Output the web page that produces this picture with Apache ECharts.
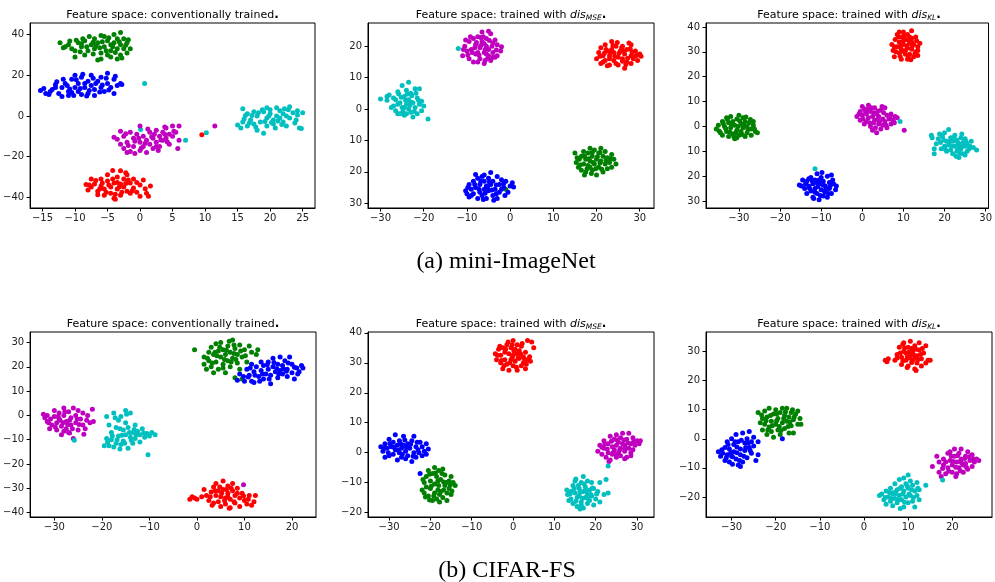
<!DOCTYPE html>
<html>
<head>
<meta charset="utf-8">
<script src="https://cdn.jsdelivr.net/npm/echarts@6/dist/echarts.min.js"></script>
<style>
  html, body { margin: 0; padding: 0; background: #fff; }
  #chart { width: 995px; height: 582px; }
</style>
</head>
<body>
<div id="chart"></div>
<script>
// t-SNE feature space plots, 2 datasets x 3 training setups

// ---- tick values ----
const p1XTicks = [-15, -10, -5, 0, 5, 10, 15, 20, 25];
const p1YTicks = [-40, -20, 0, 20, 40];
const p2XTicks = [-30, -20, -10, 0, 10, 20, 30];
const p2YTicks = [-30, -20, -10, 0, 10, 20];
const p3XTicks = [-30, -20, -10, 0, 10, 20, 30];
const p3YTicks = [-30, -20, -10, 0, 10, 20, 30, 40];
const p4XTicks = [-30, -20, -10, 0, 10, 20];
const p4YTicks = [-40, -30, -20, -10, 0, 10, 20, 30];
const p5XTicks = [-30, -20, -10, 0, 10, 20, 30];
const p5YTicks = [-20, -10, 0, 10, 20, 30, 40];
const p6XTicks = [-30, -20, -10, 0, 10, 20];
const p6YTicks = [-20, -10, 0, 10, 20, 30];

// ---- (a) mini-ImageNet, conventionally trained ----
const p1Green = [[-12.3,36],[-11,35],[-10.5,33],[-10,29],[-9.5,36],[-9,34],[-8.5,37],[-8,32],[-8.5,30],[-7.5,35],[-7,38],[-7,33],[-6.5,36],[-6,31],[-6,28],[-5.5,39],[-5.5,34],[-5,37],[-5,30],[-4.5,35],[-4.5,32],[-4,40],[-4,36],[-3.5,38],[-3.5,33],[-3,41],[-3,35],[-3,30],[-2.5,38],[-2.5,33],[-2,36],[-2,31],[-3.5,28],[-6.5,27.5],[-9,35.5],[-10,32],[-7.8,39],[-5.8,36.5],[-4.2,34],[-2.8,28.5],[-1.8,37.5],[-11.5,34],[-8.2,34],[-6.2,33.5],[-4.8,38.5],[-3.2,36.5],[-7.2,30.5],[-9.8,37.2],
  [-11.8,33.5],[-10.8,36.8],[-9.2,31.5],[-8.8,38],[-7.2,36.2],[-6.8,34.5],[-5.2,32],[-4.5,29],[-3.8,31.2],[-2.2,34.8],[-1.5,33],[-6,39.5]];
const p1Blue = [[-15.3,12.5],[-14.5,11],[-14,10.5],[-13.5,13],[-13,15.5],[-12.5,11],[-12,14],[-12,9.5],[-11.5,16],[-11,12],[-11,10],[-10.5,18],[-10,14],[-10,20],[-9.5,12],[-9.5,16],[-9,10.5],[-9,19],[-8.5,14],[-8,17],[-8,11],[-7.5,15],[-7.5,20],[-7,13],[-7,10],[-6.5,17],[-6,14],[-6,19],[-5.5,12],[-5,16],[-5,21],[-4.5,14],[-4,18],[-4,11],[-3.5,15],[-3,16],[-2.8,15.5],[-8.8,20.5],[-11.8,18],[-6.8,16],[-10.2,10],[-13,14],[-9.2,13.5],[-7.8,12.5],[-5.2,18.5],[-11.2,15],[-8.5,16],
  [-14.8,13.5],[-13.8,12],[-12.8,16.8],[-10.8,13.2],[-9.8,17.8],[-8.2,9.8],[-7.2,18.5],[-6.2,11.8],[-5.8,15.2],[-4.8,12.8],[-3.8,19.5],[-10.5,11.5]];
const p1Red = [[-8.3,-33.8],[-8,-36.5],[-7.5,-35],[-7.5,-31],[-7,-33.5],[-6.5,-37],[-6,-34.5],[-6,-31],[-5.5,-36],[-5.5,-39],[-5,-32],[-5,-29],[-4.5,-35],[-4.5,-38],[-4,-33],[-4,-40.5],[-3.5,-30],[-3.5,-36],[-3,-27],[-3,-33.5],[-3,-39],[-2.5,-31],[-2.5,-35],[-2,-29],[-2,-37],[-1.5,-33],[-1.5,-38],[-1,-31],[-1,-35.5],[-0.5,-37.5],[0,-34],[0,-39.5],[0.5,-31.5],[1,-38],[1.6,-34.5],[1.3,-39.5],[-4.2,-26.8],[-2.2,-28],[-6.8,-31.8],[-3.8,-41],[-3.2,-35],[-4.8,-34],[-2.8,-37.5],[-1.8,-31.5],[9.5,-9.3],
  [-7.8,-34],[-6.2,-36],[-5.8,-33],[-5.2,-37.5],[-4.2,-31],[-3.8,-38.5],[-2.2,-33.2],[-1.2,-36.8],[-0.5,-32.8],[0.8,-35.8],[-6.5,-38.8],[-3.5,-32.8]];
const p1Cyan = [[15,-4.5],[15.5,-6],[15.8,3.5],[16,-1.5],[16.5,1],[16.5,-5],[17,-2],[17.5,2],[17.5,-4],[18,-7],[18,0],[18.5,-3],[19,2],[19,-8.5],[19.5,-1],[19.5,-5],[20,1],[20,3],[20.5,-2],[20.5,-4],[21,0],[21,4],[21.5,-1],[21.5,2.5],[22,-3],[22,1],[22.5,-5],[23,4.5],[23,-1],[23.5,1.5],[24,-2],[24.5,-6],[25,1.5],[24.8,-6.2],[24.2,0.5],[18.8,3],[16.8,-3.5],[20.8,-6],[22.8,3],[17.2,0.2],[19.8,0],[21.2,-2.5],[0.7,16],[0.1,-6.7],[7,-12],[10.2,-8.3],
  [15.8,-3],[16.2,0.2],[17.8,-5.5],[18.2,1.5],[19.2,-2.8],[20.2,-3.2],[21.8,-4.2],[22.2,3.5],[23.8,-3.5],[24.2,2.5],[22.5,0],[19.5,4]];
const p1Magenta = [[-4,-10.5],[-3,-7.5],[-2.5,-10],[-2,-13],[-2.5,-16],[-2,-18],[-1.5,-8],[-1,-11],[-1,-15],[-0.5,-9],[0,-13],[0,-17],[0,-5],[0.5,-10],[0.5,-15],[1,-12],[1,-18],[1.5,-8],[1.5,-14],[2,-11],[2,-16],[2.5,-7],[2.5,-13],[3,-10],[3,-15],[3.5,-8],[3.5,-12],[4,-6],[4,-11],[4.5,-9],[4.5,-14],[5,-5],[5,-10],[5.5,-8],[6,-5],[6,-12],[5.8,-16],[-3,-14],[-1.5,-17.5],[2.8,-17],[1.2,-6.5],[3.8,-5.5],[-0.8,-12.5],[0.8,-13.5],[2.2,-9],[11.5,-5],
  [-3.5,-11.5],[-2.2,-8.8],[-1.8,-14.5],[-0.2,-11],[0.2,-15.8],[1.8,-10.2],[2.5,-15],[3.2,-11.8],[4.2,-12.8],[5.2,-7.5],[3.8,-9],[-0.8,-18.5]];

// ---- (a) mini-ImageNet, trained with dis_MSE ----
const p2Magenta = [[-11,17],[-10.5,20],[-10,18.5],[-9.5,21.5],[-9.5,16],[-9,19],[-8.5,22.5],[-8.5,15],[-8,17.5],[-8,20.5],[-7.5,23],[-7.5,18],[-7,19.5],[-7,16],[-6.5,21.5],[-6.5,24.5],[-6,18],[-6,14.5],[-5.5,20],[-5.5,22.5],[-5,17],[-5,19],[-4.5,24],[-4.5,15.5],[-4,21],[-4,18],[-3.5,16.5],[-3.5,22],[-3,20.5],[-2.2,18.5],[-2,19.8],[-3,17],[-5.2,16.2],[-7.8,21.2],[-8.8,18],[-6.2,23],[-10.3,22],[-5,24.8],[-6.8,20.2],[-5.8,19],[-4.2,20],[-7.2,17.2],
  [-10.8,19],[-9.8,17.2],[-9.2,23],[-8.2,19.5],[-7.5,15],[-6.8,22.8],[-6,20.8],[-5.5,17.5],[-4.8,21.8],[-4,16.5],[-3.2,18.8],[-5.8,15.5]];
const p2Red = [[20,16],[20.5,18],[21,14.5],[21,19.5],[21.5,17],[22,20.5],[22,15.5],[22.5,18.5],[23,14],[23,17],[23.5,21.5],[23.5,19],[24,15.5],[24,18],[24.5,20],[25,16.5],[25,14],[25.5,18.5],[26,16],[26,20],[26.5,13],[26.5,17.5],[27,15],[27,19],[27.5,21],[28,17],[28,14.5],[28.5,16],[29,18.5],[29.5,15.5],[30,17.5],[30.3,16.8],[22.5,13.8],[24.8,21.2],[27.8,19.2],[26.8,14.2],[21.8,17.8],[29,17],[25.8,19.5],[23.2,18],[24.2,16.8],[28.2,18.2],
  [20.8,16.8],[21.5,15],[22.2,19],[23,16],[23.8,20.2],[24.5,14.5],[25.2,17.8],[26.2,18.5],[27.2,16.2],[28,20.5],[29.5,17.2],[26,15.2]];
const p2Cyan = [[-30,3.2],[-28.5,4],[-28,4.5],[-27,1],[-26.5,3],[-26.5,-0.5],[-26,5.5],[-25.5,2],[-25.5,-1.5],[-25,7.5],[-25,0.5],[-24.5,4],[-24.5,-2],[-24,1.5],[-24,6],[-23.5,8.5],[-23.5,0],[-23.5,3],[-23,5],[-23,-1],[-22.5,2],[-22.5,-2.5],[-22,6.5],[-22,0.5],[-21.5,3.5],[-21.5,-1.5],[-21,1.5],[-20.5,2.5],[-20,1],[-19,-3.2],[-21,6.5],[-26,1.5],[-24.8,-0.8],[-22.8,4.2],[-27.5,0.5],[-20.5,-0.5],[-24.2,2.8],[-23.2,1.2],[-12,19.3],
  [-28.5,2.8],[-27,3.5],[-26,-1.5],[-25.2,3.8],[-24.5,0.5],[-23.8,4.8],[-23,2.2],[-22.2,-0.8],[-21.8,5],[-21.2,2.8],[-24,-1.5],[-25.8,4.8]];
const p2Green = [[15,-14],[15.3,-17],[15.8,-18.5],[16,-16],[16.5,-19.5],[16.5,-15],[17,-17.5],[17,-13.5],[17.5,-20],[17.5,-16],[18,-14],[18,-18],[18.5,-12.5],[18.5,-16.5],[19,-19.5],[19,-15],[19.5,-13],[19.5,-17.5],[20,-21],[20,-16],[20.5,-14],[20.5,-18.5],[21,-12.5],[21,-16.5],[21.5,-20],[21.5,-15],[22,-17.5],[22,-13.5],[22.5,-19],[22.5,-15.5],[23,-17],[23.5,-14.5],[23.5,-18.5],[24,-16],[24.5,-17.5],[17.2,-21],[18.8,-20.5],[20.8,-13.8],[19.2,-17],[20.2,-15.2],[-1,-25.5],
  [15.5,-15.5],[16.2,-17.8],[17.2,-15],[17.8,-19],[18.2,-15.8],[19,-13.8],[19.8,-19],[20.8,-17.2],[21.2,-19.2],[22.2,-16.2],[23.2,-15.8],[18.5,-18.5]];
const p2Blue = [[-10.3,-26],[-10,-27],[-9.5,-24],[-9.5,-28],[-9,-25.5],[-8.5,-23],[-8.5,-27],[-8,-25],[-7.5,-22],[-7.5,-28.5],[-7,-24],[-7,-26.5],[-6.5,-21.5],[-6.5,-27.5],[-6,-23],[-6,-25.5],[-5.5,-24.5],[-5.5,-28.5],[-5,-22],[-5,-26],[-4.5,-20.2],[-4.5,-24],[-4,-27.5],[-4,-23],[-3.5,-25.5],[-3,-21.5],[-3,-28.5],[-2.5,-24],[-2.5,-26.5],[-2,-22.5],[-1.5,-25],[-1,-23],[-0.5,-26.5],[0,-24.5],[0.5,-23.5],[0.8,-24.8],[-8,-20.8],[-6.2,-28.8],[-3.8,-29],[-1.2,-27.5],[-5.2,-24.8],[-3.2,-24.2],
  [-9.8,-25],[-9,-27.5],[-8.2,-24],[-7.2,-25.5],[-6.8,-23],[-5.8,-26.8],[-4.8,-23.2],[-4.2,-25.8],[-3.2,-27],[-2,-25.5],[-1.5,-23.8],[-6,-21]];

// ---- (a) mini-ImageNet, trained with dis_KL ----
const p3Red = [[7.2,33],[7.5,30.5],[7.8,28],[8,35],[8.5,32],[8.5,37],[9,29.5],[9,34],[9.5,27],[9.5,31],[9.5,36],[10,33],[10,38],[10.5,29],[10.5,35],[11,27],[11,31.5],[11,37],[11.5,33.5],[11.5,29],[12,35.5],[12,38.5],[12,31],[12.5,28],[12.5,33],[13,30],[13,36],[13.5,28.5],[13.5,32],[14,33.5],[8.2,30],[10.2,36.5],[11.8,26.8],[9.8,30.2],[13.2,34.5],[10.8,32.5],[11.2,34.8],[9.2,32.2],
  [7.8,32],[8.8,36],[9.2,28.2],[10,34.5],[10.5,30.5],[11.5,36],[11.2,28],[12.2,32.5],[12.8,29.2],[13.5,30.5],[9,38],[12,34]];
const p3Green = [[-35.5,-1],[-35,0.5],[-34.5,-2.5],[-34,2],[-34,-3.5],[-33.5,0],[-33,3.5],[-33,-2],[-32.5,1.5],[-32.5,-4],[-32,-0.5],[-32,4],[-31.5,2],[-31.5,-3],[-31,0.5],[-31,-5],[-30.5,3],[-30.5,-1.5],[-30,4.5],[-30,-3.5],[-29.5,1],[-29.5,-2],[-29,3.5],[-29,-0.5],[-28.5,2],[-28.5,-4],[-28,0],[-28,-2.5],[-27.5,1.5],[-27,-1],[-27,-3.5],[-26.5,0.5],[-26,-2],[-25.5,-2.5],[-26.5,2],[-28.3,3.8],[-33.8,1.2],[-31.2,-4.2],[-30.2,0],[-32.2,-2.2],
  [-34.8,-1.8],[-33.2,-0.8],[-32.8,2.8],[-31.8,0.8],[-30.8,-2.5],[-29.8,2.2],[-29.2,-3.2],[-28.8,0.8],[-27.8,-1.2],[-27.2,2.8],[-26.2,-1],[-30.5,-4.5]];
const p3Magenta = [[-1.3,4],[-0.5,6],[-0.5,2.5],[0,8],[0,4.5],[0.5,1],[0.5,7],[1,5],[1,2],[1.5,8.5],[1.5,3.5],[2,6],[2,0],[2.5,4],[2.5,-1.5],[3,7.5],[3,2.5],[3.5,5],[3.5,-2.5],[4,1],[4,4],[4.5,6.5],[4.5,-1],[5,3],[5,0.5],[5.5,7.5],[5.5,2],[6,4.5],[6,-0.5],[6.5,3],[7,5],[7,1],[7.5,2.5],[8,4],[8.5,3.5],[10.2,-1.5],[3.2,-0.5],[1.2,6.8],[4.8,8],[2.8,5.5],[3.8,3],
  [-0.8,5],[0.2,3],[0.8,5.8],[1.8,1.5],[2.2,7.5],[2.8,1.5],[3.8,6.2],[4.2,2],[5.2,5.5],[5.8,0.5],[6.8,3.8],[7.8,1.5]];
const p3Cyan = [[16.8,-3.5],[17,-4.5],[17.5,-11],[17.5,-9],[18.5,-5],[19,-6.5],[19.5,-4],[20,-8],[20,-2.5],[20.5,-6],[20.5,-10],[21,-1.2],[21,-7.5],[21.5,-4.5],[21.5,-9.5],[22,-6],[22,-11],[22.5,-3.5],[22.5,-8],[23,-5.5],[23,-10],[23.5,-7],[23.5,-12.5],[24,-4.5],[24,-9],[24.5,-6.5],[24.5,-11],[25,-8],[25,-5],[25.5,-10],[25.5,-7],[26,-9],[26.5,-6],[27,-8.5],[27.8,-9.5],[19.2,-9],[22.8,-12],[18,-7],[24.2,-3],[23.2,-8.5],[9.2,2],[-11.5,-17],
  [18.8,-3],[19.8,-5.5],[20.2,-9.2],[21.2,-6.2],[21.8,-8],[22.2,-4.8],[23.2,-6.5],[23.8,-10.8],[24.2,-7.8],[25.2,-6],[26.2,-8],[25,-11.5]];
const p3Blue = [[-15.3,-23.5],[-14.5,-21.5],[-14,-25],[-13.5,-22],[-13.5,-27],[-13,-24],[-12.5,-20.5],[-12.5,-26],[-12,-23],[-12,-28.5],[-11.5,-21.5],[-11.5,-25],[-11,-19],[-11,-27],[-10.5,-23],[-10.5,-29.5],[-10,-20.5],[-10,-25.5],[-9.5,-22],[-9.5,-28],[-9,-24],[-9,-26.5],[-8.5,-20],[-8.5,-28.5],[-8,-22.5],[-8,-25],[-7.5,-27],[-7.5,-19.5],[-7,-23],[-6.5,-25.5],[-6.3,-24],[-11.8,-29],[-9.8,-18.5],[-13,-21],[-10.8,-24.2],[-11.2,-22.5],[-9.2,-26],
  [-14.8,-24],[-13.8,-23],[-12.8,-25],[-12.2,-21.8],[-11.5,-26.5],[-10.5,-21.5],[-10.2,-27.8],[-9.5,-23.5],[-8.8,-25.2],[-8.2,-27],[-7.2,-21.5],[-7.8,-24]];

// ---- (b) CIFAR-FS, conventionally trained ----
const p4Green = [[-0.5,27],[1.5,21],[1.5,24],[2,19],[2.5,26],[2.5,22.5],[3,28],[3,20],[3.5,25],[3.5,17.5],[4,29.5],[4,22],[4.5,26.5],[4.5,19],[5,24],[5,30],[5.5,21],[5.5,27],[6,17.5],[6,25],[6.5,22.5],[6.5,28.5],[7,20],[7,26],[7.5,31],[7.5,23.5],[8,15.5],[8,27.5],[8.5,21.5],[8.5,25],[9,29],[9,19],[9.5,24],[9.5,15],[10,27],[10.5,22],[11,28.5],[12.5,25],[12.8,27],[3.8,26],[6.8,30.5],[5.8,23],[7.8,25.5],
  [2.2,23.5],[3.2,21.5],[4.2,24.5],[4.8,28],[5.5,19.5],[6.2,26.8],[7.2,22],[7.8,29],[8.2,23],[9.2,26.5],[10.2,24.5],[11.5,26]];
const p4Blue = [[8.5,14.5],[9,17],[10,14],[10.5,19],[11,16.5],[11.5,21],[11.5,14],[12,18],[12,13.5],[12.5,20],[13,16],[13.5,22],[13.5,18.5],[14,15],[14,20.5],[14.5,17],[15,22],[15,19],[15.5,13],[15.5,16.5],[16,20],[16,23.5],[16.5,18],[17,15.5],[17,21],[17.5,24],[17.5,18.5],[18,17],[18,20.5],[18.5,22.5],[19,16],[19,19],[19.5,24],[20,21],[20,17.5],[20.5,15],[21,19.5],[21.5,18],[22,20.5],[22.3,19.5],[10.8,15.8],[13.2,14],[16.8,19.2],[18.8,18.2],
  [9.8,16],[11.2,19.5],[12.2,16.5],[13.8,17],[14.8,20.8],[15.2,15],[16.2,21.8],[17.2,17],[18.2,19.2],[19.2,21.5],[20.5,19.8],[21.2,17]];
const p4Magenta = [[-32.3,0.5],[-32,-1],[-31.5,-2.5],[-31,-5.5],[-30.5,-4],[-30,-0.5],[-30,2],[-29.5,-3],[-29.5,-6],[-29,1],[-29,-1.5],[-28.5,-4.5],[-28.5,-8],[-28,3],[-28,0],[-27.5,-2.5],[-27.5,-5.5],[-27,-7],[-27,1.5],[-26.5,-1],[-26.5,-4],[-26,3],[-26,-9.5],[-25.5,0],[-25.5,-3],[-25,-6],[-25,2],[-24.5,-1.5],[-24,-4],[-24,1],[-23.5,-5.5],[-23,0],[-22.5,-3],[-22,2.5],[-21.8,-2.5],[-23.8,-7.8],[-26.8,-7.2],[-31.2,-3],[-28.8,-2],[-27.2,-3.8],[9.8,-28.5],
  [-31.5,0],[-30.8,-1.5],[-29.8,-4.8],[-29.2,-0.5],[-28.2,-3],[-27.8,1.5],[-26.8,-2],[-26.2,-5.5],[-25.2,-1.5],[-24.8,-3.8],[-23.2,-2],[-28,-6.5]];
const p4Cyan = [[-19.5,-12.5],[-19,-9.5],[-19,-0.5],[-18.5,-4],[-18.5,-12.5],[-18,-7],[-18,-10],[-17.5,-13],[-17.5,1],[-17,-5],[-17,-11.5],[-16.5,-2],[-16.5,-8.5],[-16,-0.5],[-16,-12],[-15.5,-6],[-15.5,-10.5],[-15,-3],[-15,-8],[-15,2],[-14.5,-13.5],[-14.5,-5],[-14,-9],[-14,1],[-13.5,-7],[-13.5,-11.5],[-13,-4],[-13,-9.5],[-12.5,-6.5],[-12,-8],[-12,-11],[-11.5,-5.5],[-11,-9],[-10.5,-7.5],[-10,-8.5],[-9.5,-7],[-8.8,-8],[-10.3,-16.2],[-14.8,0.5],[-16.2,-13.8],[-25.8,-10.2],
  [-18.8,-11],[-17.8,-8.5],[-17.2,-1],[-16.8,-10],[-16.2,-5.5],[-15.8,-8.2],[-15.2,-11.5],[-14.2,-7],[-13.8,-10.2],[-13.2,-5.8],[-12.8,-8],[-11.2,-7.2]];
const p4Red = [[-1.5,-34.5],[-1,-33.5],[-0.5,-34],[0,-34.5],[1.5,-30.5],[2,-33],[2.5,-35],[3,-31.5],[3.5,-29.5],[3.5,-36],[4,-33],[4,-28],[4.5,-31],[4.5,-35.5],[5,-33.5],[5,-37.5],[5.5,-27],[5.5,-30.5],[6,-34],[6,-36.5],[6.5,-29],[6.5,-32],[7,-38],[7,-34.5],[7.5,-28],[7.5,-31],[8,-33],[8,-36],[8.5,-30],[9,-34],[9,-37.5],[9.5,-32],[10,-35],[10.5,-36.5],[11,-33],[11.5,-37],[12,-35.5],[12.3,-33],[6.8,-38.2],[5.2,-32],[6.2,-30.5],
  [1,-33.5],[2.8,-33.5],[3.2,-37],[3.8,-31],[4.8,-29.5],[5.8,-35],[6.5,-33.5],[7.2,-30],[7.8,-35.5],[8.5,-32],[9.8,-33.2],[10.8,-34.5]];

// ---- (b) CIFAR-FS, trained with dis_MSE ----
const p5Red = [[-4.3,33],[-4,31],[-3.5,34.5],[-3,30],[-3,32.5],[-2.5,35],[-2.5,28],[-2,33.5],[-2,31],[-1.5,36],[-1.5,29.5],[-1,33],[-1,27.5],[-0.5,35],[-0.5,31],[0,37.5],[0,32.5],[0,29],[0.5,34.5],[0.5,30.5],[1,36],[1,33],[1,27.5],[1.5,31.5],[1.5,34],[2,29],[2,35.5],[2.5,32],[2.5,30],[3,33.5],[3,28],[3.5,31],[3.5,37.5],[4,32],[4.5,37],[5,35],[4.2,30.5],[-1.2,37],[0.2,34],[-0.2,31.8],
  [-3.8,32.5],[-3.2,35.5],[-2.8,30.8],[-2.2,29],[-1.8,34.5],[-0.8,30],[-0.2,36],[0.8,28.5],[1.2,31.5],[1.8,33],[2.2,36.5],[2.8,31.2],[3.2,29.5]];
const p5Blue = [[-32,2],[-31.5,0.5],[-31,3],[-31,-1.5],[-30.5,1.5],[-30,4.5],[-30,-1],[-29.5,2],[-29,-0.5],[-29,3.5],[-28.5,6],[-28.5,1],[-28,-2.5],[-28,2.5],[-27.5,4],[-27.5,0],[-27,1.5],[-27,-1.5],[-26.5,5.5],[-26.5,2.5],[-26,0.5],[-26,-2],[-25.5,3],[-25.5,-1],[-25,1.5],[-24.5,-3],[-24.5,4],[-24,0],[-24,5.5],[-23.5,2],[-23.5,-1.5],[-23,1],[-22.5,3.5],[-22,-1],[-22,2],[-21.5,0.5],[-21,3],[-20.5,1.2],[-21,-0.5],[-22.5,-7],
  [-31.2,1.5],[-30.2,0],[-29.8,3],[-28.8,1.8],[-27.8,0.8],[-27.2,3],[-26.8,-0.5],[-25.8,1.8],[-24.8,2.8],[-24.2,-1.2],[-23.2,3.5],[-22.8,0],[-26.2,4.2]];
const p5Green = [[-22,-12.5],[-21.5,-10],[-21.5,-13.5],[-21,-8],[-21,-11.5],[-20.5,-6],[-20.5,-14.5],[-20,-9.5],[-20,-12],[-19.5,-16],[-19.5,-7],[-19,-5],[-19,-10.5],[-19,-13.5],[-18.5,-8],[-18.5,-15.5],[-18,-11],[-18,-6],[-17.5,-13],[-17.5,-9],[-17,-15],[-17,-5.5],[-16.5,-11],[-16.5,-7.5],[-16,-13.5],[-16,-16],[-15.5,-9.5],[-15.5,-12],[-15,-8],[-15,-14],[-14.5,-10],[-14,-11],[-17.8,-16.5],[-20.2,-15.8],[-18.2,-12.5],[-16.8,-9.8],
  [-21.8,-9],[-21.2,-14.8],[-20.2,-7.2],[-19.8,-11.2],[-19.2,-14.5],[-18.8,-6.8],[-18.2,-9.5],[-17.8,-14],[-17.2,-7],[-16.8,-12.5],[-16.2,-10],[-15.2,-10.8],[-14.8,-12.8]];
const p5Magenta = [[20.5,0.5],[21,2.5],[21.5,-0.5],[22,4],[22,1.5],[22.5,-1.5],[23,3],[23,0],[23.5,5.5],[23.5,-2.5],[24,2],[24,-0.5],[24.5,4.5],[24.5,1],[25,6],[25,2.5],[25,-1.5],[25.5,0],[25.5,3.5],[26,5],[26,1.5],[26,-1],[26.5,3],[26.5,6.5],[27,0.5],[27,2.5],[27.5,4.5],[27.5,-1.5],[28,1.5],[28,6.5],[28.5,3],[28.5,-1],[29,5],[29,1],[29.5,2.5],[30,4],[30.5,3],[30.8,4],[27,-2],[23.2,-3],
  [21.5,1.8],[22.2,3],[22.8,1.2],[23.8,3.8],[24.2,0],[24.8,-0.5],[25.2,4.2],[25.8,1],[26.8,4.2],[27.2,1.5],[27.8,3.2],[28.5,0],[29.2,3.8]];
const p5Cyan = [[13,-12.5],[13.2,-14],[13.5,-16],[14,-13],[14,-15.5],[14.5,-11],[14.5,-17],[15,-13.5],[15,-9.5],[15.5,-15],[15.5,-18],[16,-12],[16,-14.5],[16.5,-10],[16.5,-16.5],[17,-8],[17,-13],[17,-18.5],[17.5,-11.5],[17.5,-15],[18,-9.5],[18,-14],[18,-17],[18.5,-12.5],[18.5,-16],[19,-10],[19,-14.5],[19.5,-12],[19.5,-17.5],[20,-15.5],[20.5,-13],[21,-10],[21,-16.5],[22,-14],[22.5,-9],[23,-13.5],[16.2,-18.8],[15.2,-8.8],[23,-4.5],
  [13.8,-13.8],[14.8,-12],[15.2,-16.2],[15.8,-11],[16.2,-13.2],[16.8,-15.2],[17.2,-10.5],[17.8,-12.8],[18.2,-15.5],[18.8,-14],[19.2,-11.8],[20.2,-13.8],[16.5,-17.5]];

// ---- (b) CIFAR-FS, trained with dis_KL ----
const p6Red = [[4.8,27],[5.2,26.5],[5.5,27.5],[7,27],[7.5,29],[8,31.5],[8.5,28],[8.5,25.5],[9,30],[9,33],[9.5,27],[9.5,29.5],[10,31.5],[10,25],[10.5,28.5],[10.5,33.5],[11,27],[11,30],[11.5,24],[11.5,32],[12,26],[12,28.5],[12.5,30.5],[12.5,33],[13,27.5],[13,25],[13.5,29.5],[14,32],[14,26],[14.5,27],[15,27],[11.8,23.5],[9.8,24.5],[8.8,32.5],[10.8,31],[10.2,27.8],[11.2,29],
  [7.5,27.8],[8.2,29.5],[8.8,26.8],[9.2,31.2],[9.8,28.2],[10.2,29.8],[10.8,26.2],[11.5,27.8],[11.8,30.8],[12.2,27.2],[12.8,29],[13.2,31]];
const p6Green = [[-24,9],[-23.5,5.5],[-23,7],[-23,3],[-22.5,9.5],[-22.5,5],[-22,1.5],[-22,7.5],[-21.5,4],[-21.5,10.5],[-21,6],[-21,2.5],[-20.5,8.5],[-20.5,0.5],[-20,5],[-20,10],[-19.5,3],[-19.5,7],[-19,9],[-19,1.5],[-18.5,5.5],[-18.5,10.5],[-18,3.5],[-18,8],[-17.5,6],[-17.5,10.5],[-17,2],[-17,7.5],[-16.5,4.5],[-16.5,9],[-16,6.5],[-16,2],[-15.5,8.5],[-15,5],[-15,9.5],[-14.5,7],[-14.3,5],[-19.8,6.2],[-18.2,7],
  [-23.2,8.2],[-22.2,6.2],[-21.8,3],[-21.2,8],[-20.8,4.5],[-19.8,8.5],[-19.2,4.2],[-18.8,2.8],[-17.8,9.2],[-17.2,4.2],[-16.8,5.8],[-15.8,7.5],[-16.2,10]];
const p6Blue = [[-33,-4.5],[-32.5,-6],[-32,-5],[-31.5,-3],[-31.5,-7.5],[-31,-1],[-31,-5.5],[-30.5,-3.5],[-30.5,-8],[-30,0],[-30,-6],[-29.5,-2],[-29.5,-4.5],[-29,1.5],[-29,-7],[-28.5,-1],[-28.5,-9],[-28,-3.5],[-28,-5.5],[-27.5,2],[-27.5,-8],[-27,-1.5],[-27,-4],[-26.5,0],[-26.5,-6.5],[-26,2.5],[-26,-3],[-25.5,-1],[-25.5,-5],[-25,-2.5],[-25,0.5],[-24.5,-7.5],[-24,-5.5],[-24,-1],[-28,-9.5],[-29.8,-8.8],[-28.8,-4.8],[-18.5,0],
  [-32.2,-3.8],[-31.2,-6.5],[-30.8,-2],[-30.2,-4.8],[-29.2,-1],[-29.8,-6.2],[-28.8,-2.8],[-28.2,-7.5],[-27.8,-0.5],[-27.2,-6],[-26.8,-3],[-26.2,-1.5],[-25.8,-4]];
const p6Magenta = [[15.5,-9.5],[16.5,-6],[17,-8],[17,-11.5],[17.5,-13],[18,-9],[18,-7],[18.5,-12],[19,-5],[19,-10],[19.5,-7.5],[19.5,-4.5],[20,-9],[20,-11.5],[20.5,-6],[20.5,-3.5],[21,-8],[21,-12],[21.5,-5],[21.5,-10],[22,-7],[22,-3.5],[22.5,-9],[22.5,-11.5],[23,-6],[23,-8.5],[23.5,-4.5],[23.5,-10.5],[24,-7.5],[24.5,-9.5],[24.5,-5.5],[25,-8],[25.5,-7],[26,-7.5],[20.8,-13],[21.8,-7.8],
  [17.8,-10.2],[18.5,-8],[19.2,-11.2],[19.8,-6],[20.2,-7.8],[20.8,-9.8],[21.2,-5.8],[21.8,-11],[22.2,-8.5],[22.8,-6.8],[23.2,-9.8],[23.8,-6.2],[24.8,-7]];
const p6Cyan = [[3.5,-19.5],[4,-19],[4.5,-21],[5,-18],[5,-22.5],[5.5,-20],[6,-17],[6,-21.5],[6.5,-19],[6.5,-23],[7,-15.5],[7,-20.5],[7.5,-17.5],[7.5,-22],[8,-14],[8,-19.5],[8.5,-16.5],[8.5,-21],[9,-13.5],[9,-18],[9,-23.5],[9.5,-15.5],[9.5,-20],[10,-12.5],[10,-17],[10,-22],[10.5,-14.5],[10.5,-19.5],[11,-16],[11,-21.5],[11.5,-18],[11.5,-23.5],[12,-15],[12,-19.5],[12.5,-17.5],[12.5,-21],[14,-16],[8.2,-24],[6.8,-18.5],[17.8,-14.2],
  [4.8,-20.2],[5.8,-18.5],[6.2,-20.5],[7.2,-18.8],[7.8,-21],[8.2,-17],[8.8,-19],[9.2,-21.8],[9.8,-16.2],[10.2,-19],[10.8,-17.5],[11.2,-20.2],[12.2,-17]];

// ---- titles ----
const titleConv = 'Feature space: conventionally trained';
const titleWith = 'Feature space: trained with ';
const captions = ['(a) mini-ImageNet', '(b) CIFAR-FS'];

const COLORS = { b: '#0000ff', g: '#008000', r: '#ff0000', c: '#00bfbf', m: '#bf00bf' };

const panels = [
  { grid: { left: 30, top: 23, width: 285, height: 185 }, xr: [-16.9, 26.9], yr: [-45.3, 45.7], xt: p1XTicks, yt: p1YTicks, absY: false,
    title: '{t|' + titleConv + '}{d|.}',
    sets: [['b', p1Blue], ['g', p1Green], ['r', p1Red], ['c', p1Cyan], ['m', p1Magenta]] },
  { grid: { left: 368, top: 23, width: 286, height: 185 }, xr: [-32.9, 33.3], yr: [-31.5, 27.4], xt: p2XTicks, yt: p2YTicks, absY: true,
    title: '{t|' + titleWith + '}{i|dis}{s|MSE}{d|.}',
    sets: [['m', p2Magenta], ['r', p2Red], ['c', p2Cyan], ['g', p2Green], ['b', p2Blue]] },
  { grid: { left: 706, top: 23, width: 286, height: 185 }, xr: [-38, 30.7], yr: [-32.8, 41.6], xt: p3XTicks, yt: p3YTicks, absY: true,
    title: '{t|' + titleWith + '}{i|dis}{s|KL}{d|.}',
    sets: [['r', p3Red], ['g', p3Green], ['m', p3Magenta], ['c', p3Cyan], ['b', p3Blue]] },
  { grid: { left: 30, top: 332, width: 286, height: 185 }, xr: [-35.1, 25.05], yr: [-41.8, 34.3], xt: p4XTicks, yt: p4YTicks, absY: false,
    title: '{t|' + titleConv + '}{d|.}',
    sets: [['g', p4Green], ['b', p4Blue], ['m', p4Magenta], ['c', p4Cyan], ['r', p4Red]] },
  { grid: { left: 368, top: 332, width: 286, height: 185 }, xr: [-35.1, 34.1], yr: [-21.5, 40.3], xt: p5XTicks, yt: p5YTicks, absY: false,
    title: '{t|' + titleWith + '}{i|dis}{s|MSE}{d|.}',
    sets: [['r', p5Red], ['b', p5Blue], ['g', p5Green], ['m', p5Magenta], ['c', p5Cyan]] },
  { grid: { left: 706, top: 332, width: 286, height: 185 }, xr: [-35.8, 29], yr: [-26.9, 36.7], xt: p6XTicks, yt: p6YTicks, absY: false,
    title: '{t|' + titleWith + '}{i|dis}{s|KL}{d|.}',
    sets: [['r', p6Red], ['g', p6Green], ['b', p6Blue], ['m', p6Magenta], ['c', p6Cyan]] }
];

const fmt = (abs) => (v) => {
  const n = Number(v);
  if (n < 0) return abs ? String(-n) : '\u2212' + (-n);
  return String(n);
};

const axisCommon = {
  type: 'value',
  axisLine: { show: true, onZero: false, lineStyle: { color: '#000', width: 1 } },
  axisTick: { show: true, length: 3.5, lineStyle: { color: '#000' } },
  splitLine: { show: false },
  axisLabel: { color: '#222', fontSize: 10, fontFamily: 'DejaVu Sans' }
};

const titleRich = {
  t: { fontFamily: 'DejaVu Sans', fontSize: 11, color: '#111', lineHeight: 14 },
  i: { fontFamily: 'DejaVu Sans', fontStyle: 'italic', fontSize: 11, color: '#111', lineHeight: 14 },
  s: { fontFamily: 'DejaVu Sans', fontStyle: 'italic', fontSize: 7.5, color: '#111', lineHeight: 14, verticalAlign: 'bottom', padding: [4, 0, 0, 0] },
  d: { fontFamily: 'DejaVu Sans', fontWeight: 'bold', fontSize: 12, color: '#000', lineHeight: 14 }
};

const grids = [], xAxes = [], yAxes = [], series = [], graphics = [];
panels.forEach((p, k) => {
  grids.push(Object.assign({ show: true, borderColor: '#000', borderWidth: 1, backgroundColor: '#fff', containLabel: false }, p.grid));
  xAxes.push(Object.assign({}, axisCommon, {
    gridIndex: k, min: p.xr[0], max: p.xr[1],
    axisTick: Object.assign({}, axisCommon.axisTick, { customValues: p.xt }),
    axisLabel: Object.assign({}, axisCommon.axisLabel, { customValues: p.xt, margin: 5, formatter: fmt(false) })
  }));
  yAxes.push(Object.assign({}, axisCommon, {
    gridIndex: k, min: p.yr[0], max: p.yr[1],
    axisTick: Object.assign({}, axisCommon.axisTick, { customValues: p.yt }),
    axisLabel: Object.assign({}, axisCommon.axisLabel, { customValues: p.yt, margin: 6, formatter: fmt(p.absY) })
  }));
  p.sets.forEach(([c, pts]) => {
    series.push({
      type: 'scatter', xAxisIndex: k, yAxisIndex: k,
      data: pts, symbolSize: 5, silent: true,
      itemStyle: { color: COLORS[c], opacity: 1 }
    });
  });
  graphics.push({
    type: 'text', x: p.grid.left + p.grid.width / 2, y: p.grid.top - 15,
    style: { text: p.title, rich: titleRich, align: 'center', verticalAlign: 'top' }
  });
});

graphics.push({ type: 'text', x: 506, y: 250, style: { text: captions[0], fontFamily: 'Liberation Serif', fontSize: 24, fill: '#000', align: 'center', verticalAlign: 'top' } });
graphics.push({ type: 'text', x: 507, y: 559, style: { text: captions[1], fontFamily: 'Liberation Serif', fontSize: 24, fill: '#000', align: 'center', verticalAlign: 'top' } });

const chart = echarts.init(document.getElementById('chart'), null, { renderer: 'canvas' });
chart.setOption({
  animation: false,
  backgroundColor: '#fff',
  grid: grids,
  xAxis: xAxes,
  yAxis: yAxes,
  series: series,
  graphic: graphics
});
</script>
</body>
</html>
